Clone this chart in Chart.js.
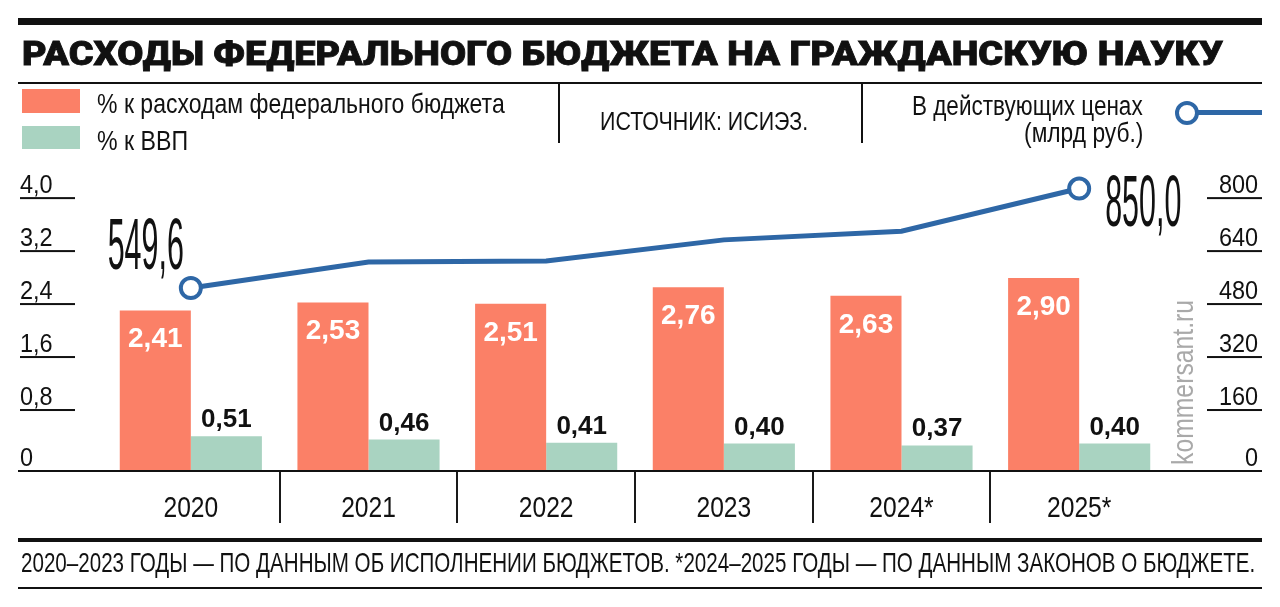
<!DOCTYPE html>
<html lang="ru">
<head>
<meta charset="utf-8">
<title>Расходы федерального бюджета на гражданскую науку</title>
<script src="https://cdn.jsdelivr.net/npm/chart.js@4.4.1/dist/chart.umd.min.js"></script>
<style>
  html, body { margin: 0; padding: 0; background: #fff; }
  #wrap { position: relative; width: 1280px; height: 607px; overflow: hidden; }
  #chart { position: absolute; left: 0; top: 0; }
  .t { position: absolute; white-space: nowrap; line-height: 1; color: #111;
       font-family: "Liberation Sans Narrow", "Arial Narrow", "Liberation Sans", sans-serif; }
  .rule { position: absolute; background: #111; }
</style>
</head>
<body>
<div id="wrap">
  <canvas id="chart" width="1280" height="607"></canvas>

  <!-- шапка -->
  <div class="rule" style="left:18px;top:18px;width:1244px;height:7px"></div>
  <div class="t" data-w="1201" style="left:22px;top:37px;font-size:33px;font-weight:900;font-family:Roboto,Inter,sans-serif;-webkit-text-stroke:0.8px #111;transform-origin:left">РАСХОДЫ ФЕДЕРАЛЬНОГО БЮДЖЕТА НА ГРАЖДАНСКУЮ НАУКУ</div>
  <div class="rule" style="left:18px;top:82px;width:1244px;height:2px"></div>

  <div id="swRed" style="position:absolute;left:22px;top:89px;width:58px;height:24px"></div>
  <div id="swGreen" style="position:absolute;left:22px;top:126px;width:58px;height:23px"></div>
  <div class="t" data-w="408" style="left:97px;top:90px;font-size:28px;transform-origin:left">% к расходам федерального бюджета</div>
  <div class="t" data-w="91" style="left:97px;top:127px;font-size:28px;transform-origin:left">% к ВВП</div>

  <div class="rule" style="left:558px;top:84px;width:2px;height:59px"></div>
  <div class="t" data-w="208" style="left:600px;top:109px;font-size:25px;transform-origin:left">ИСТОЧНИК: ИСИЭЗ.</div>
  <div class="rule" style="left:861px;top:84px;width:2px;height:59px"></div>

  <div class="t" data-w="231" style="right:137px;top:93px;font-size:27px;transform-origin:right">В действующих ценах</div>
  <div class="t" data-w="119" style="right:137px;top:120px;font-size:27px;transform-origin:right">(млрд руб.)</div>
  <div id="mkLine" style="position:absolute;left:1198px;top:110px;width:64px;height:5px"></div>
  <div id="mkDot" style="position:absolute;left:1175px;top:101px;width:24px;height:24px;box-sizing:border-box;border-radius:50%;background:#fff;border:4px solid"></div>

  <div class="t" data-w="165" data-rot="1" style="left:1168px;top:465px;font-size:30px;color:#a9a9a9;transform-origin:0 0">kommersant.ru</div>

  <!-- подвал -->
  <div class="rule" style="left:18px;top:538px;width:1244px;height:4px"></div>
  <div class="t" data-w="1234" style="left:21px;top:549px;font-size:28px;transform-origin:left">2020–2023 ГОДЫ — ПО ДАННЫМ ОБ ИСПОЛНЕНИИ БЮДЖЕТОВ. *2024–2025 ГОДЫ — ПО ДАННЫМ ЗАКОНОВ О БЮДЖЕТЕ.</div>
  <div class="rule" style="left:18px;top:587px;width:1244px;height:2px"></div>
</div>

<script>
// данные
const years = ['2020', '2021', '2022', '2023', '2024*', '2025*'];
const shareBudget = [2.41, 2.53, 2.51, 2.76, 2.63, 2.90];   // % к расходам федерального бюджета
const shareGdp = [0.51, 0.46, 0.41, 0.40, 0.37, 0.40];      // % к ВВП
const spendBn = [549.6, 628, 631, 695, 721, 850.0];          // млрд руб., в действующих ценах
const leftTicks = [0, 0.8, 1.6, 2.4, 3.2, 4.0];
const rightTicks = [0, 160, 320, 480, 640, 800];

const red = '#fb8067';
const green = '#a9d3c1';
const blue = '#2e67a6';
const ink = '#111';
const narrow = '"Liberation Sans Narrow", "Arial Narrow", "Liberation Sans", sans-serif';
const bold = '"Liberation Sans", Arial, sans-serif';

document.getElementById('swRed').style.background = red;
document.getElementById('swGreen').style.background = green;
document.getElementById('mkLine').style.background = blue;
document.getElementById('mkDot').style.borderColor = blue;

const comma = (v, d) => v.toFixed(d).replace('.', ',');

// узкий шрифт: если Narrow нет, поджимаем обычный
function squeeze(ctx) {
  ctx.font = '100px ' + narrow;
  return 45.6 / ctx.measureText('0').width;
}
function narrowText(ctx, txt, x, y, size, align, sx) {
  ctx.save();
  ctx.font = size + 'px ' + narrow;
  ctx.textAlign = align;
  ctx.textBaseline = 'alphabetic';
  ctx.translate(x, y);
  ctx.scale(sx, 1);
  ctx.fillText(txt, 0, 0);
  ctx.restore();
}

// подписи осей, базовая линия и подписи значений
const decor = {
  id: 'decor',
  afterDatasetsDraw(chart) {
    const ctx = chart.ctx;
    ctx.save();

    // столбцы
    const mRed = chart.getDatasetMeta(0).data;
    const mGreen = chart.getDatasetMeta(1).data;
    ctx.textAlign = 'center';
    ctx.textBaseline = 'alphabetic';
    ctx.fillStyle = '#fff';
    ctx.font = 'bold 28px ' + bold;
    mRed.forEach((b, i) => ctx.fillText(comma(shareBudget[i], 2), b.x, b.y + 37));
    ctx.fillStyle = ink;
    ctx.font = 'bold 26px ' + bold;
    mGreen.forEach((b, i) => ctx.fillText(comma(shareGdp[i], 2), b.x, b.y - 9));

    // крайние точки линии
    const pts = chart.getDatasetMeta(2).data;
    ctx.font = '72px ' + narrow;
    const sx = (0.235 * 72) / ctx.measureText('0').width;
    const first = pts[0], last = pts[pts.length - 1];
    narrowText(ctx, comma(spendBn[0], 1), first.x - 7, first.y - 19, 72, 'right', sx);
    narrowText(ctx, comma(spendBn[spendBn.length - 1], 1), last.x + 26, last.y + 37, 72, 'left', sx);

    ctx.restore();
  },
  afterDraw(chart) {
    const ctx = chart.ctx;
    const x = chart.scales.x, yl = chart.scales.y, yr = chart.scales.y2;
    ctx.save();
    ctx.fillStyle = ink;
    const sx = squeeze(ctx);
    const tx = sx * 1.1;

    leftTicks.forEach(v => {
      const p = yl.getPixelForValue(v);
      if (v === 0) { narrowText(ctx, '0', 20, p - 4, 26, 'left', tx); return; }
      narrowText(ctx, comma(v, 1), 20, p - 12, 26, 'left', tx);
      ctx.fillRect(20, p - 8, 55, 2);
    });
    rightTicks.forEach(v => {
      const p = yr.getPixelForValue(v);
      if (v === 0) { narrowText(ctx, '0', 1258, p - 4, 26, 'right', tx); return; }
      narrowText(ctx, String(v), 1258, p - 12, 26, 'right', tx);
      ctx.fillRect(1207, p - 8, 55, 2);
    });

    // годы под осью
    years.forEach((y, i) => narrowText(ctx, y, x.getPixelForTick(i), x.top + 47, 30, 'center', sx));

    // базовая линия во всю ширину
    ctx.fillRect(18, yl.getPixelForValue(0), 1244, 2);
    ctx.restore();
  }
};

new Chart(document.getElementById('chart'), {
  type: 'bar',
  data: {
    labels: years,
    datasets: [
      { label: '% к расходам федерального бюджета', data: shareBudget, backgroundColor: red, yAxisID: 'y', order: 1 },
      { label: '% к ВВП', data: shareGdp, backgroundColor: green, yAxisID: 'y', order: 1 },
      {
        type: 'line', label: 'В действующих ценах (млрд руб.)', data: spendBn, yAxisID: 'y2', order: 0,
        borderColor: blue, borderWidth: 5, tension: 0,
        pointRadius: spendBn.map((v, i) => (i === 0 || i === spendBn.length - 1) ? 10 : 0),
        pointBackgroundColor: '#fff', pointBorderColor: blue, pointBorderWidth: 4
      }
    ]
  },
  options: {
    responsive: false,
    animation: false,
    categoryPercentage: 0.8,
    barPercentage: 1.0,
    layout: { padding: { left: 102, right: 112, top: 172, bottom: 77 } },
    plugins: { legend: { display: false }, tooltip: { enabled: false } },
    scales: {
      x: {
        border: { display: false },
        grid: {
          drawOnChartArea: false,
          tickLength: 53,
          lineWidth: 2,
          color: c => (c.type !== 'tick' || c.index === 0) ? 'rgba(0,0,0,0)' : '#1a1a1a'
        },
        ticks: { display: false },
        afterFit: s => { s.height = 60; }
      },
      y: { display: false, min: 0, max: 4.5 },
      y2: { display: false, position: 'right', min: 0, max: 900 }
    }
  },
  plugins: [decor]
});

// ужимаем надписи до ширины оригинала
function fitText() {
  document.querySelectorAll('[data-w]').forEach(el => {
    const s = +el.dataset.w / el.offsetWidth;
    el.style.transform = (el.dataset.rot ? 'rotate(-90deg) ' : '') + 'scaleX(' + s.toFixed(4) + ')';
  });
}
fitText();
if (document.fonts) document.fonts.ready.then(fitText);
</script>
</body>
</html>
